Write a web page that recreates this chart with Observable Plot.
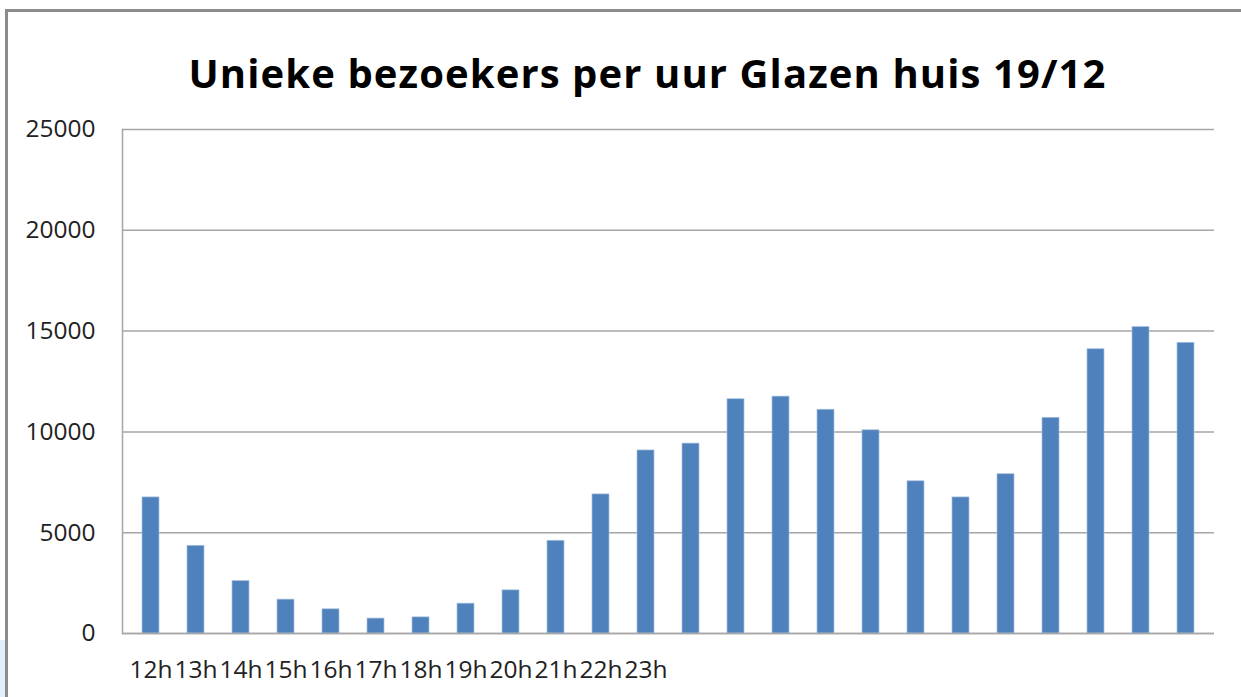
<!DOCTYPE html>
<html>
<head>
<meta charset="utf-8">
<script src="https://cdn.jsdelivr.net/npm/d3@7"></script>
<script src="https://cdn.jsdelivr.net/npm/@observablehq/plot@0.6"></script>
<style>
  html, body { margin: 0; padding: 0; background: #fff; }
  #wrap { position: relative; width: 1241px; height: 697px; overflow: hidden; background: #fff; font-family: "Open Sans", sans-serif; }
  #border { position: absolute; left: 5px; top: 9px; width: 1300px; height: 800px; border-top: 3px solid #8c8c8c; border-left: 3px solid #8c8c8c; box-sizing: border-box; }
  #patch { position: absolute; left: 0; top: 640px; width: 5px; height: 57px; background: #e4eef9; }
  #title { position: absolute; left: 0; top: 53px; width: 1295px; text-align: center; font-family: "Open Sans", sans-serif; font-weight: 700; font-size: 40px; letter-spacing: 1.1px; line-height: 1; color: #000; white-space: nowrap; }
  #chart { position: absolute; left: 0; top: 110px; }
</style>
</head>
<body>
<div id="wrap">
  <div id="patch"></div>
  <div id="border"></div>
  <div id="title">Unieke bezoekers per uur Glazen huis 19/12</div>
  <div id="chart"></div>
</div>
<script>
// Tick labels shown under the first twelve bars
const hourLabels = ["12h", "13h", "14h", "15h", "16h", "17h", "18h", "19h", "20h", "21h", "22h", "23h"];
// Unique visitors per hour (24 bars)
const visitors = [6750, 4350, 2600, 1680, 1200, 740, 800, 1480, 2140, 4600, 6900, 9080,
                  9420, 11620, 11750, 11100, 10080, 7550, 6750, 7900, 10700, 14100, 15200, 14420];
const yTicks = [0, 5000, 10000, 15000, 20000, 25000];

const data = visitors.map((v, i) => ({i, v}));
const gridColor = "#a6a6a6";

const chart = Plot.plot({
  width: 1241,
  height: 587,
  marginTop: 19,
  marginBottom: 64,
  marginLeft: 122,
  marginRight: 27,
  style: {fontFamily: "'Open Sans', sans-serif", color: "#222", background: "transparent"},
  x: {domain: d3.range(visitors.length), paddingInner: 0.625, paddingOuter: 0.3125, label: null},
  y: {domain: [0, 25000], label: null},
  marks: [
    Plot.gridY(yTicks, {stroke: gridColor, strokeOpacity: 1, strokeWidth: 1.5}),
    Plot.frame({anchor: "left", stroke: gridColor, strokeWidth: 1.5}),
    Plot.barY(data, {x: "i", y: "v", fill: "#4f81bd", stroke: "#a9c1de", strokeWidth: 0.7}),
    Plot.ruleY([0], {stroke: gridColor, strokeWidth: 1.5}),
    Plot.axisY(yTicks, {tickSize: 0, tickPadding: 27, fontSize: 24.5, tickFormat: d => String(d), label: null, fill: "#222"}),
    Plot.axisX({tickSize: 0, tickPadding: 27, fontSize: 24.5, tickFormat: i => hourLabels[i] ?? "", label: null, fill: "#222"})
  ]
});
document.getElementById("chart").appendChild(chart);
</script>
</body>
</html>
